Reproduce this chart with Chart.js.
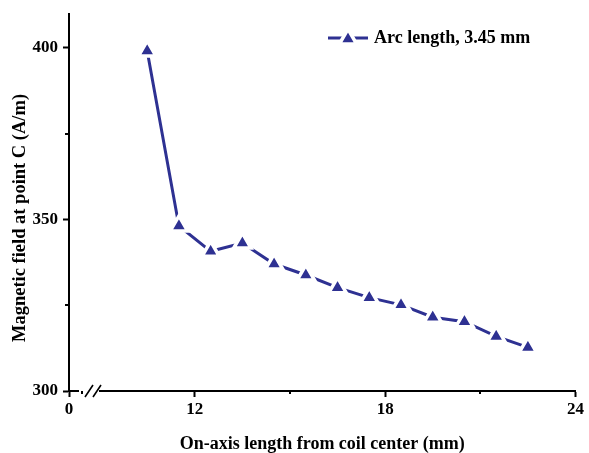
<!DOCTYPE html>
<html>
<head>
<meta charset="utf-8">
<script src="https://cdn.jsdelivr.net/npm/chart.js@4/dist/chart.umd.min.js"></script>
<style>
  html, body { margin: 0; padding: 0; background: #fff; }
  #wrap { width: 589px; height: 453px; }
</style>
</head>
<body>
<div id="wrap"><canvas id="c" width="589" height="453"></canvas></div>
<script>
// On-axis distance from the coil centre (mm)
const distances = [10.5, 11.5, 12.5, 13.5, 14.5, 15.5, 16.5, 17.5, 18.5, 19.5, 20.5, 21.5, 22.5];
// Magnetic field at point C (A/m)
const fieldValues = [399.1, 348.1, 340.7, 343.1, 337.0, 333.8, 330.1, 327.2, 325.1, 321.5, 320.2, 315.9, 312.7];
const seriesName = 'Arc length, 3.45 mm';
const xTitle = 'On-axis length from coil center (mm)';
const yTitle = 'Magnetic field at point C (A/m)';

// Broken x axis: the left end stands for 0
const xAxisStart = 8.035;
const xAxisEnd = 24;
const xTickValues = [xAxisStart, 12, 18, 24];
const xTickLabels = ['0', '12', '18', '24'];
const xMinorTicks = [8.45, 15, 21];

const yAxisMin = 300;
const yAxisMax = 410;
const yTickValues = [300, 350, 400];
const yTickLabels = ['300', '350', '400'];
const yMinorTicks = [325, 375];

const NAVY = '#2e3192';
const FONT = 'Liberation Serif';
const MARK_R = 10;
const MARK_GAP = 3.5;

function triangle(ctx, cx, cy, r, fill, stroke, lw) {
  ctx.beginPath();
  for (let i = 0; i < 3; i++) {
    const a = i * 2 * Math.PI / 3;
    const px = cx + Math.sin(a) * r;
    const py = cy - Math.cos(a) * r;
    if (i === 0) ctx.moveTo(px, py); else ctx.lineTo(px, py);
  }
  ctx.closePath();
  ctx.fillStyle = fill;
  ctx.fill();
  ctx.strokeStyle = stroke;
  ctx.lineWidth = lw;
  ctx.stroke();
}

// minor ticks, axis break marks, y title and the legend
const decor = {
  id: 'decor',
  afterDraw(chart) {
    const { ctx, chartArea: area, scales: { x, y } } = chart;
    ctx.save();

    // gap in the x axis line for the break
    ctx.fillStyle = '#fff';
    ctx.fillRect(area.left + 10, area.bottom - 2, 20, 4);

    ctx.strokeStyle = '#000';
    ctx.lineWidth = 2;
    ctx.lineCap = 'butt';
    ctx.beginPath();
    xMinorTicks.forEach(v => {
      const px = Math.round(x.getPixelForValue(v));
      ctx.moveTo(px, area.bottom);
      ctx.lineTo(px, area.bottom + 3);
    });
    yMinorTicks.forEach(v => {
      const py = Math.round(y.getPixelForValue(v));
      ctx.moveTo(area.left, py);
      ctx.lineTo(area.left - 4, py);
    });
    ctx.stroke();

    // "//" break marks
    ctx.lineWidth = 1.6;
    ctx.beginPath();
    ctx.moveTo(area.left + 16, area.bottom + 6);
    ctx.lineTo(area.left + 24, area.bottom - 6);
    ctx.moveTo(area.left + 24, area.bottom + 6);
    ctx.lineTo(area.left + 32, area.bottom - 6);
    ctx.stroke();

    // y axis title, centred a little below the plot middle
    ctx.fillStyle = '#000';
    ctx.font = 'bold 18.5px "' + FONT + '"';
    ctx.textAlign = 'center';
    ctx.textBaseline = 'middle';
    ctx.translate(20, 218);
    ctx.rotate(-Math.PI / 2);
    ctx.fillText(yTitle, 0, 0);
    ctx.setTransform(1, 0, 0, 1, 0, 0);

    // legend
    const ly = 38;
    ctx.strokeStyle = NAVY;
    ctx.lineWidth = 3;
    ctx.beginPath();
    ctx.moveTo(328, ly);
    ctx.lineTo(368, ly);
    ctx.stroke();
    triangle(ctx, 348, ly + 1, MARK_R, NAVY, '#fff', MARK_GAP);
    ctx.fillStyle = '#000';
    ctx.font = 'bold 18px "' + FONT + '"';
    ctx.textAlign = 'left';
    ctx.textBaseline = 'middle';
    ctx.fillText(seriesName, 374, ly);
    ctx.restore();
  }
};

new Chart(document.getElementById('c'), {
  type: 'line',
  data: {
    datasets: [{
      label: seriesName,
      data: distances.map((d, i) => ({ x: d, y: fieldValues[i] })),
      borderColor: NAVY,
      borderWidth: 3,
      backgroundColor: NAVY,
      pointStyle: 'triangle',
      pointRadius: MARK_R,
      pointBackgroundColor: NAVY,
      pointBorderColor: '#fff',
      pointBorderWidth: MARK_GAP,
      tension: 0,
      fill: false
    }]
  },
  options: {
    responsive: false,
    animation: false,
    events: [],
    layout: { padding: { top: 12, right: 11, left: 0, bottom: 0 } },
    plugins: { legend: { display: false }, tooltip: { enabled: false } },
    scales: {
      x: {
        type: 'linear',
        min: xAxisStart,
        max: xAxisEnd,
        afterBuildTicks: s => { s.ticks = xTickValues.map(v => ({ value: v })); },
        afterFit: s => { s.height = 62; },
        grid: { display: true, drawOnChartArea: false, drawTicks: true, tickLength: 6, tickWidth: 2, tickColor: '#000' },
        border: { display: true, color: '#000', width: 2 },
        ticks: {
          color: '#000',
          padding: 4,
          autoSkip: false,
          maxRotation: 0,
          font: { family: FONT, size: 17, weight: 'bold', lineHeight: 1 },
          callback: (v, i) => xTickLabels[i]
        },
        title: {
          display: true,
          text: xTitle,
          color: '#000',
          padding: { top: 0, bottom: 0 },
          font: { family: FONT, size: 18, weight: 'bold', lineHeight: 1 }
        }
      },
      y: {
        type: 'linear',
        min: yAxisMin,
        max: yAxisMax,
        afterBuildTicks: s => { s.ticks = yTickValues.map(v => ({ value: v })); },
        afterFit: s => { s.width = 69; },
        grid: { display: true, drawOnChartArea: false, drawTicks: true, tickLength: 6, tickWidth: 2, tickColor: '#000' },
        border: { display: true, color: '#000', width: 2 },
        ticks: {
          color: '#000',
          padding: 5,
          font: { family: FONT, size: 17, weight: 'bold', lineHeight: 1 },
          callback: (v, i) => yTickLabels[i]
        }
      }
    }
  },
  plugins: [decor]
});
</script>
</body>
</html>
